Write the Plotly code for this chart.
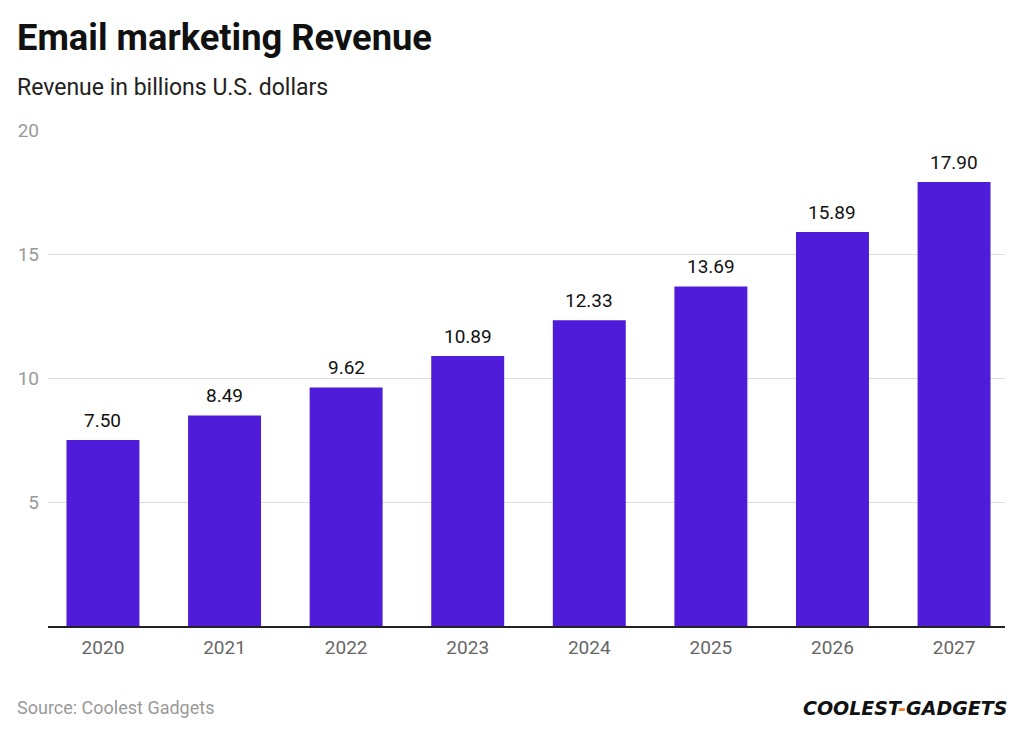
import plotly.graph_objects as go

years = ["2020", "2021", "2022", "2023", "2024", "2025", "2026", "2027"]
revenue = [7.50, 8.49, 9.62, 10.89, 12.33, 13.69, 15.89, 17.90]
y_ticks = [5, 10, 15, 20]

OFF = 8  # page body margin
W, H = 1022 - OFF, 735 - OFF
L, R = 48 - OFF, 1005 - OFF
T, B = 130 - OFF, 626 - OFF


def py(y):
    return (B - (y - OFF)) / (B - T)


def px(x):
    return ((x - OFF) - L) / (R - L)


fig = go.Figure(go.Bar(
    x=list(range(len(years))), y=revenue,
    marker=dict(color="#4F1CD9", line=dict(width=0)),
    width=0.6,
    hoverinfo="skip",
))

annotations = [
    dict(x=i, y=v, xref="x", yref="y", text=f"{v:.2f}", showarrow=False,
         yanchor="bottom", yshift=6,
         font=dict(family="Roboto", size=19, color="#111111"))
    for i, v in enumerate(revenue)
]

annotations += [
    dict(text="<b>Email marketing Revenue</b>", xref="paper", yref="paper",
         x=px(15), y=py(38), xanchor="left", yanchor="middle", showarrow=False,
         font=dict(family="Roboto", size=36.3, color="#111111")),
    dict(text="Revenue in billions U.S. dollars", xref="paper", yref="paper",
         x=px(15), y=py(88), xanchor="left", yanchor="middle", showarrow=False,
         font=dict(family="Roboto", size=23, color="#222222")),
    dict(text="Source: Coolest Gadgets", xref="paper", yref="paper",
         x=px(15), y=py(707), xanchor="left", yanchor="middle", showarrow=False,
         font=dict(family="Roboto", size=18, color="#999999")),
    dict(text="<b><i>COOLEST<span style='color:#F07C1E'>-</span>GADGETS</i></b>",
         xref="paper", yref="paper", x=px(1009), y=py(708),
         xanchor="right", yanchor="middle", showarrow=False,
         font=dict(family="DejaVu Sans", size=19, color="#111111")),
]

fig.update_layout(
    width=W, height=H,
    margin=dict(l=L, r=W - R, t=T, b=H - B, autoexpand=False),
    plot_bgcolor="white", paper_bgcolor="white",
    showlegend=False,
    font=dict(family="Roboto"),
    xaxis=dict(
        range=[-0.452, 7.419],
        tickmode="array", tickvals=list(range(len(years))), ticktext=years,
        tickfont=dict(family="Roboto", size=19, color="#666666"),
        showgrid=False, zeroline=False,
        showline=True, linecolor="#222222", linewidth=2,
        ticks="", ticklabelstandoff=3,
    ),
    yaxis=dict(
        range=[0, 20],
        tickmode="array", tickvals=y_ticks,
        tickfont=dict(family="Roboto", size=19, color="#9a9a9a"),
        showgrid=True, gridcolor="#dddddd", gridwidth=1,
        zeroline=False, showline=False, ticks="",
        ticklabelstandoff=8,
    ),
    annotations=annotations,
)

fig.write_html("out.html")
